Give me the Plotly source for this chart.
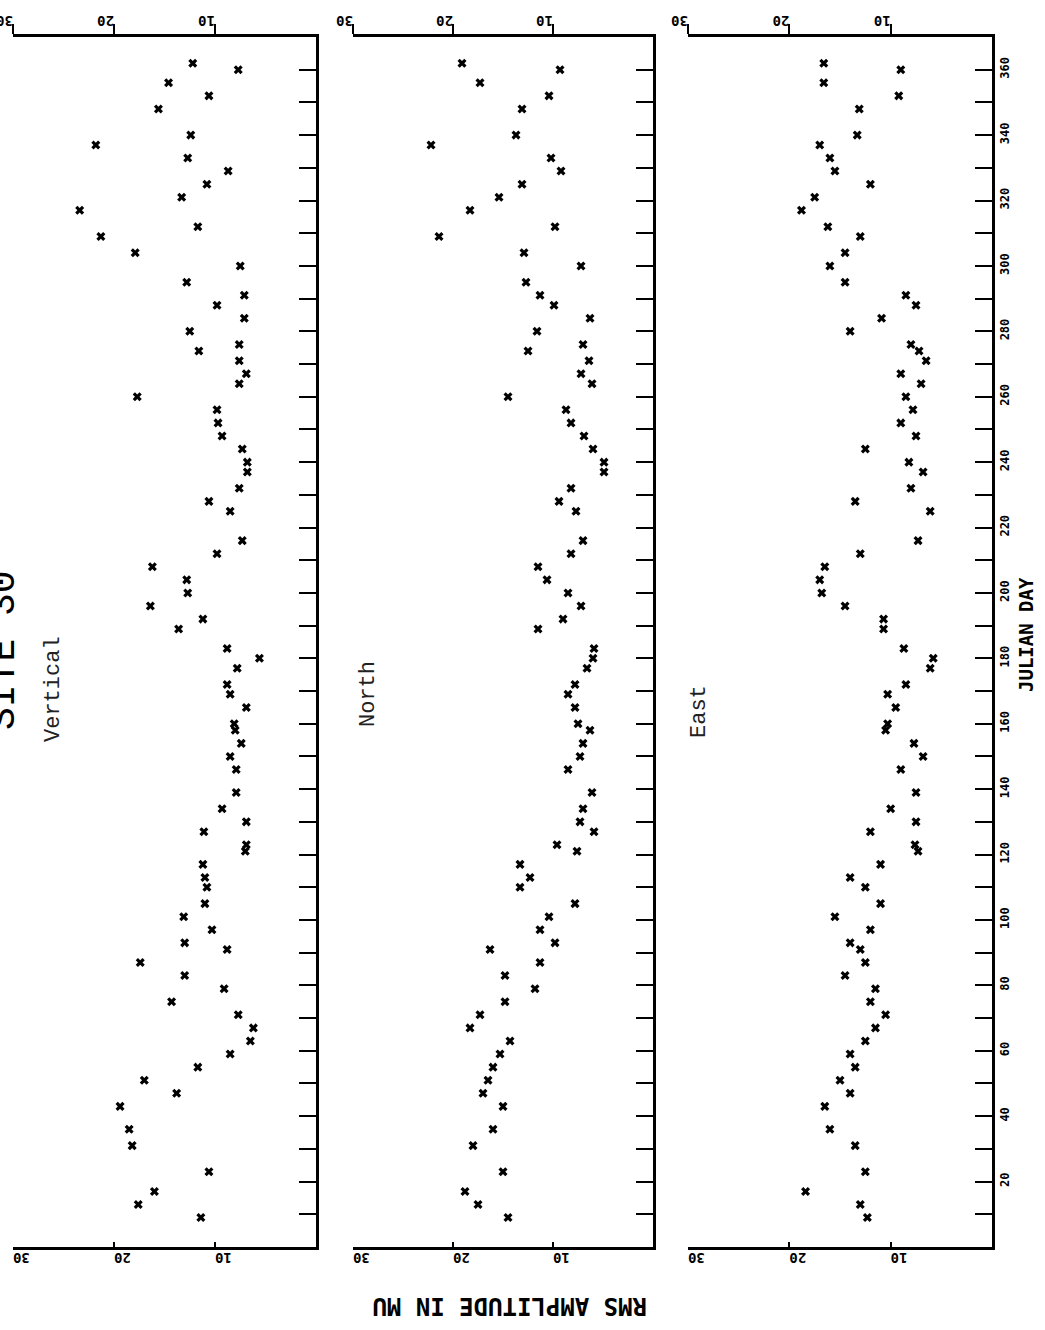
import plotly.graph_objects as go

# ---------------- data ----------------
DAYS = [362, 360, 356, 352, 348, 340, 337, 333, 329, 325, 321, 317, 312, 309, 304,
        300, 295, 291, 288, 284, 280, 276, 274, 271, 267, 264, 260, 256, 252, 248,
        244, 240, 237, 232, 228, 225, 216, 212, 208, 204, 200, 196, 192, 189, 183,
        180, 177, 172, 169, 165, 160, 158, 154, 150, 146, 139, 134, 130, 127, 123,
        121, 117, 113, 110, 105, 101, 97, 93, 91, 87, 83, 79, 75, 71, 67,
        63, 59, 55, 51, 47, 43, 36, 31, 23, 17, 13, 9]

VERTICAL = [12.2, 7.7, 14.6, 10.6, 15.6, 12.4, 21.8, 12.7, 8.7, 10.8, 13.3, 23.4, 11.7, 21.3, 17.9,
            7.5, 12.8, 7.1, 9.8, 7.1, 12.5, 7.6, 11.6, 7.6, 6.9, 7.6, 17.7, 9.8, 9.7, 9.3,
            7.3, 6.8, 6.8, 7.6, 10.6, 8.5, 7.3, 9.8, 16.2, 12.8, 12.7, 16.4, 11.2, 13.6, 8.8,
            5.6, 7.8, 8.8, 8.5, 6.9, 8.1, 8.0, 7.4, 8.5, 7.9, 7.9, 9.3, 6.9, 11.1, 6.9,
            7.0, 11.2, 11.0, 10.8, 11.0, 13.1, 10.3, 13.0, 8.8, 17.4, 13.0, 9.1, 14.3, 7.7, 6.2,
            6.5, 8.5, 11.7, 17.0, 13.8, 19.4, 18.5, 18.2, 10.6, 16.0, 17.6, 11.4]

NORTH = [19.1, 9.3, 17.3, 10.4, 13.1, 13.7, 22.2, 10.2, 9.2, 13.1, 15.4, 18.3, 9.8, 21.4, 12.9,
         7.2, 12.7, 11.3, 9.9, 6.3, 11.6, 7.0, 12.5, 6.4, 7.2, 6.1, 14.5, 8.7, 8.2, 6.9,
         6.0, 4.9, 4.9, 8.2, 9.4, 7.7, 7.0, 8.2, 11.5, 10.6, 8.5, 7.2, 9.0, 11.5, 5.9,
         6.0, 6.6, 7.8, 8.5, 7.8, 7.5, 6.3, 7.0, 7.3, 8.5, 6.1, 7.0, 7.3, 5.9, 9.6,
         7.6, 13.3, 12.3, 13.3, 7.8, 10.4, 11.3, 9.8, 16.3, 11.3, 14.8, 11.8, 14.8, 17.3, 18.3,
         14.3, 15.3, 16.0, 16.5, 17.0, 15.0, 16.0, 18.0, 15.0, 18.8, 17.5, 14.5]

EAST = [16.6, 9.0, 16.6, 9.2, 13.1, 13.3, 17.0, 16.0, 15.5, 12.0, 17.5, 18.8, 16.2, 13.0, 14.5,
        16.0, 14.5, 8.5, 7.5, 10.9, 14.0, 8.0, 7.2, 6.5, 9.0, 7.0, 8.5, 7.8, 9.0, 7.5,
        12.5, 8.2, 6.8, 8.0, 13.5, 6.1, 7.3, 13.0, 16.5, 17.0, 16.8, 14.5, 10.7, 10.7, 8.7,
        5.8, 6.1, 8.5, 10.3, 9.5, 10.3, 10.5, 7.7, 6.8, 9.0, 7.5, 10.0, 7.5, 12.0, 7.6,
        7.3, 11.0, 14.0, 12.5, 11.0, 15.5, 12.0, 14.0, 13.0, 12.5, 14.5, 11.5, 12.0, 10.5, 11.5,
        12.5, 14.0, 13.5, 15.0, 14.0, 16.5, 16.0, 13.5, 12.5, 18.4, 13.0, 12.3]

PANEL_NAMES = ["Vertical", "North", "East"]
AMP_TICKS = [10, 20, 30]
AMP_LABELS = ["10", "20", "30"]
DAY_TICKS = [20, 40, 60, 80, 100, 120, 140, 160, 180, 200, 220, 240, 260, 280, 300, 320, 340, 360]
DAY_LABELS = ["20", "40", "60", "80", "100", "120", "140", "160", "180", "200",
              "220", "240", "260", "280", "300", "320", "340", "360"]
TITLE = "SITE 30"
X_TITLE = "RMS AMPLITUDE IN MU"
Y_TITLE = "JULIAN DAY"

# ---------------- layout geometry ----------------
W, H = 1045, 1330
PANEL_PX = [(13, 316), (353, 653), (688, 992)]
TOP_PX, BOT_PX = 37, 1247
LABEL_PX = [(53, 689), (368, 694), (699, 712)]

PLOT_FONT = "DejaVu Sans Mono"
TYPE_FONT = "Liberation Mono"

def px_x(p):
    return p / W

def px_y(p):
    return 1 - p / H

fig = go.Figure()
series = [VERTICAL, NORTH, EAST]
for i, vals in enumerate(series):
    n = i + 1
    sfx = "" if n == 1 else str(n)
    fig.add_trace(go.Scatter(
        x=vals, y=DAYS, mode="markers",
        marker=dict(symbol="x", size=8, color="black", line=dict(width=0)),
        xaxis=f"x{sfx}", yaxis=f"y{sfx}",
        showlegend=False, hoverinfo="skip"))
    # empty trace to materialise the top axis
    fig.add_trace(go.Scatter(x=[], y=[], xaxis=f"x{n + 3}", yaxis=f"y{sfx}",
                             showlegend=False, hoverinfo="skip"))

ydom = [px_y(BOT_PX), px_y(TOP_PX)]
layout = dict(
    width=W, height=H, margin=dict(l=0, r=0, t=0, b=0, pad=0, autoexpand=False),
    paper_bgcolor="white", plot_bgcolor="rgba(0,0,0,0)",
    showlegend=False,
)
amp_font = dict(family=PLOT_FONT, size=14, color="black", weight="bold")
for i, (l, r) in enumerate(PANEL_PX):
    n = i + 1
    xs = "" if n == 1 else str(n)
    dom = [px_x(l), px_x(r)]
    layout[f"xaxis{xs}"] = dict(
        domain=dom, range=[30, 0], anchor=f"y{xs}", side="bottom", automargin=False,
        tickvals=AMP_TICKS, ticktext=AMP_LABELS, ticks="inside", ticklen=5, tickwidth=2,
        tickcolor="black", tickangle=180, showline=True, linewidth=2.5, linecolor="black",
        showgrid=False, zeroline=False, tickfont=amp_font, ticklabeloverflow="allow")
    layout[f"xaxis{n + 3}"] = dict(
        domain=dom, range=[30, 0], anchor=f"y{xs}", side="top", overlaying=f"x{xs}",
        automargin=False, ticklabeloverflow="allow", ticklabelstandoff=-11,
        tickvals=AMP_TICKS, ticktext=AMP_LABELS, ticks="outside", ticklen=10, tickwidth=2,
        tickcolor="black", tickangle=180, showline=True, linewidth=2.5, linecolor="black",
        showgrid=False, zeroline=False, tickfont=amp_font)
    layout[f"yaxis{xs}"] = dict(
        domain=ydom, range=[0, 370], anchor=f"x{xs}", side="right", automargin=False,
        tickvals=DAY_TICKS, ticktext=DAY_LABELS, ticks="inside", ticklen=17, tickwidth=2,
        tickcolor="black", minor=dict(ticks="inside", ticklen=17, tickwidth=2, tickcolor="black",
                                      tick0=0, dtick=10),
        showticklabels=(n == 3), tickangle=-90, ticklabeloverflow="allow",
        showline=True, linewidth=2.5, linecolor="black", showgrid=False, zeroline=False,
        tickfont=dict(family=PLOT_FONT, size=12, color="black", weight="bold"))

fig.update_layout(**layout)

annotations = [
    dict(text=TITLE, x=px_x(3), y=px_y(650), textangle=-90,
         font=dict(family=TYPE_FONT, size=38, color="black")),
    dict(text=Y_TITLE, x=px_x(1026), y=px_y(635), textangle=-90,
         font=dict(family=PLOT_FONT, size=19, color="black", weight="bold")),
    dict(text=X_TITLE, x=px_x(510), y=px_y(1306), textangle=180,
         font=dict(family=PLOT_FONT, size=24, color="black", weight="bold")),
]
for name, (lx, ly) in zip(PANEL_NAMES, LABEL_PX):
    annotations.append(dict(text=name, x=px_x(lx), y=px_y(ly), textangle=-90,
                            font=dict(family=TYPE_FONT, size=22, color="#222")))
for a in annotations:
    a.update(xref="paper", yref="paper", showarrow=False, xanchor="center", yanchor="middle")
fig.update_layout(annotations=annotations)

fig.write_html("out.html", config={"displayModeBar": False},
               post_script="document.body.style.margin='0px';")
